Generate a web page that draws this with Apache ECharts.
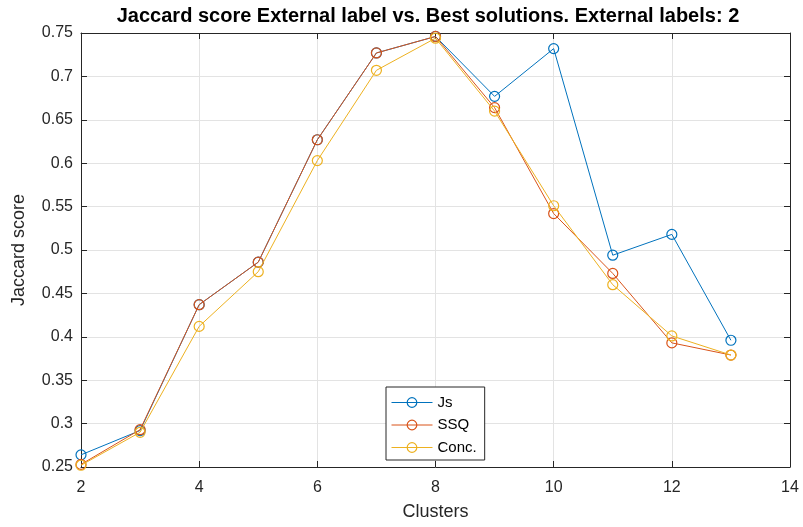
<!DOCTYPE html>
<html><head><meta charset="utf-8">
<script src="https://cdn.jsdelivr.net/npm/echarts@6/dist/echarts.min.js"></script>
<style>html,body{margin:0;padding:0;background:#fff}#c{width:803px;height:527px}</style>
</head><body><div id="c"></div>
<script>
const clusters = [2,3,4,5,6,7,8,9,10,11,12,13];
const js   = [0.264,0.292,0.437,0.486,0.627,0.727,0.746,0.677,0.732,0.494,0.518,0.396];
const ssq  = [0.253,0.293,0.437,0.486,0.627,0.727,0.746,0.664,0.542,0.473,0.393,0.379];
const conc = [0.252,0.290,0.412,0.475,0.603,0.707,0.744,0.660,0.551,0.460,0.401,0.379];
const seriesNames = ['Js','SSQ','Conc.'];
const colors = ['#0072BD','#D95319','#EDB120'];
const titleText = 'Jaccard score External label vs. Best solutions. External labels: 2';

const font = '"Liberation Sans", Arial, Helvetica, sans-serif';
const axisCol = '#262626';
const gridCol = '#e3e3e3';

function mk(name, vals, i){
  return {
    name, type:'line', xAxisIndex:0, yAxisIndex:0,
    data: clusters.map((c,k)=>[c, vals[k]]),
    symbol:'circle', symbolSize:10,
    lineStyle:{color:colors[i], width:1},
    itemStyle:{color:'rgba(255,255,255,0)', borderColor:colors[i], borderWidth:1.2},
    emphasis:{disabled:true}, animation:false, z: 2+i
  };
}
const chart = echarts.init(document.getElementById('c'), null, {renderer:'canvas'});
const baseX = {type:'value', min:2, max:14, interval:2};
const baseY = {type:'value', min:0.25, max:0.75, interval:0.05};
chart.setOption({
  animation:false,
  title:{text:titleText, left:428, textAlign:'center', top:6, padding:0,
    textStyle:{fontFamily:font, fontWeight:'bold', fontSize:20, color:'#000'}},
  grid:{left:81, right:13, top:33, bottom:60, containLabel:false},
  legend:{
    data: seriesNames, orient:'vertical', left:386, top:387,
    backgroundColor:'#fff', borderColor:axisCol, borderWidth:1, borderRadius:0,
    padding:[8,8,5,5], itemGap:7.5, itemWidth:41, itemHeight:12,
    lineStyle:{width:1}, itemStyle:{borderWidth:1.2},
    textStyle:{fontFamily:font, fontSize:15, color:'#000'}
  },
  xAxis:[
    Object.assign({}, baseX, {position:'bottom', name:'Clusters', nameLocation:'middle', nameGap:36,
      nameTextStyle:{fontFamily:font, fontSize:18, color:axisCol},
      axisLine:{show:true, onZero:false, lineStyle:{color:axisCol, width:1}},
      axisTick:{show:true, inside:true, length:6, lineStyle:{color:axisCol}},
      axisLabel:{fontFamily:font, fontSize:16, color:axisCol, margin:13},
      splitLine:{show:true, lineStyle:{color:gridCol, width:1}}}),
    Object.assign({}, baseX, {position:'top',
      axisLine:{show:true, onZero:false, lineStyle:{color:axisCol, width:1}},
      axisTick:{show:true, inside:true, length:6, lineStyle:{color:axisCol}},
      axisLabel:{show:false}, splitLine:{show:false}})
  ],
  yAxis:[
    Object.assign({}, baseY, {position:'left', name:'Jaccard score', nameLocation:'middle', nameGap:53,
      nameTextStyle:{fontFamily:font, fontSize:18, color:axisCol},
      axisLine:{show:true, onZero:false, lineStyle:{color:axisCol, width:1}},
      axisTick:{show:true, inside:true, length:6, lineStyle:{color:axisCol}},
      axisLabel:{fontFamily:font, fontSize:16, color:axisCol, margin:8,
        formatter:v=>String(+v.toFixed(2))},
      splitLine:{show:true, lineStyle:{color:gridCol, width:1}}}),
    Object.assign({}, baseY, {position:'right',
      axisLine:{show:true, onZero:false, lineStyle:{color:axisCol, width:1}},
      axisTick:{show:true, inside:true, length:6, lineStyle:{color:axisCol}},
      axisLabel:{show:false}, splitLine:{show:false}})
  ],
  series:[mk(seriesNames[0], js, 0), mk(seriesNames[1], ssq, 1), mk(seriesNames[2], conc, 2)]
});
</script></body></html>
